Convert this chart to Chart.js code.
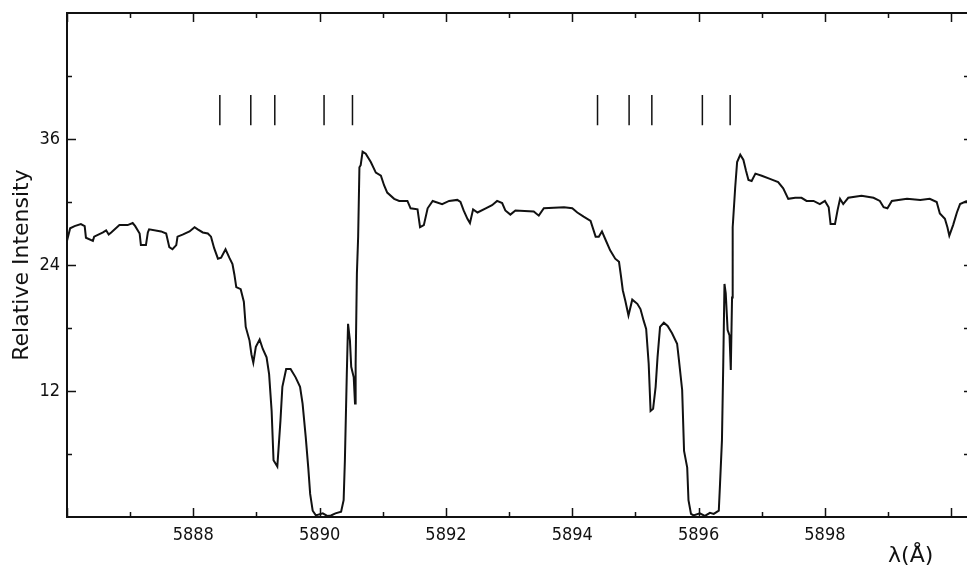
<!DOCTYPE html>
<html>
<head>
<meta charset="utf-8">
<title>Relative Intensity vs wavelength</title>
<script src="https://cdn.jsdelivr.net/npm/chart.js@4/dist/chart.umd.min.js"></script>
<style>
  html, body { margin: 0; padding: 0; background: #fff; }
  #chart { display: block; }
</style>
</head>
<body>
<canvas id="chart" width="967" height="567"></canvas>
<script>
// Spectrum (wavelength in Angstrom, relative intensity)
const wavelengths = [
  5886.00, 5886.05, 5886.12, 5886.22, 5886.28, 5886.30, 5886.41, 5886.43, 5886.57, 5886.62,
  5886.66, 5886.70, 5886.83, 5886.96, 5887.04, 5887.08, 5887.15, 5887.17, 5887.25, 5887.28,
  5887.30, 5887.49, 5887.57, 5887.62, 5887.67, 5887.73, 5887.75, 5887.83, 5887.94, 5888.02,
  5888.07, 5888.15, 5888.23, 5888.28, 5888.33, 5888.39, 5888.44, 5888.51, 5888.57, 5888.62,
  5888.65, 5888.68, 5888.75, 5888.80, 5888.83, 5888.89, 5888.92, 5888.95, 5888.99, 5889.05,
  5889.10, 5889.16, 5889.20, 5889.24, 5889.27, 5889.33, 5889.38, 5889.41, 5889.47, 5889.54,
  5889.62, 5889.69, 5889.73, 5889.78, 5889.82, 5889.85, 5889.89, 5889.94, 5890.05, 5890.12,
  5890.18, 5890.25, 5890.34, 5890.38, 5890.40, 5890.43, 5890.45, 5890.48, 5890.50, 5890.54,
  5890.56, 5890.57, 5890.59, 5890.61, 5890.63, 5890.65, 5890.68, 5890.73, 5890.81, 5890.89,
  5890.97, 5891.02, 5891.07, 5891.18, 5891.26, 5891.39, 5891.44, 5891.55, 5891.59, 5891.65,
  5891.71, 5891.79, 5891.94, 5892.05, 5892.18, 5892.23, 5892.28, 5892.34, 5892.38, 5892.43,
  5892.50, 5892.63, 5892.73, 5892.81, 5892.89, 5892.94, 5893.02, 5893.10, 5893.39, 5893.47,
  5893.55, 5893.87, 5894.00, 5894.08, 5894.18, 5894.29, 5894.37, 5894.42, 5894.47, 5894.52,
  5894.60, 5894.68, 5894.74, 5894.77, 5894.80, 5894.84, 5894.89, 5894.95, 5895.03, 5895.08,
  5895.13, 5895.17, 5895.21, 5895.24, 5895.28, 5895.32, 5895.35, 5895.39, 5895.45, 5895.51,
  5895.58, 5895.66, 5895.69, 5895.74, 5895.77, 5895.82, 5895.84, 5895.88, 5895.92, 5896.02,
  5896.10, 5896.18, 5896.24, 5896.32, 5896.34, 5896.37, 5896.39, 5896.41, 5896.43, 5896.46,
  5896.49, 5896.51, 5896.53, 5896.54, 5896.58, 5896.61, 5896.66, 5896.71, 5896.75, 5896.79,
  5896.84, 5896.90, 5897.00, 5897.13, 5897.26, 5897.34, 5897.42, 5897.53, 5897.63, 5897.71,
  5897.82, 5897.92, 5898.00, 5898.06, 5898.09, 5898.16, 5898.20, 5898.24, 5898.29, 5898.37,
  5898.58, 5898.77, 5898.87, 5898.93, 5898.99, 5899.06, 5899.30, 5899.51, 5899.66, 5899.77,
  5899.82, 5899.90, 5899.94, 5899.97, 5900.03, 5900.09, 5900.14, 5900.25
];
const intensity = [
  26.3, 27.5, 27.7, 27.9, 27.7, 26.6, 26.3, 26.7, 27.1, 27.3,
  26.9, 27.1, 27.8, 27.8, 28.0, 27.7, 27.0, 25.9, 25.9, 27.1,
  27.4, 27.2, 27.0, 25.7, 25.5, 25.9, 26.7, 26.9, 27.2, 27.6,
  27.4, 27.1, 27.0, 26.7, 25.6, 24.6, 24.7, 25.5, 24.7, 24.1,
  23.1, 21.9, 21.7, 20.5, 18.1, 16.8, 15.5, 14.7, 16.2, 16.9,
  16.0, 15.2, 13.6, 10.1, 5.4, 4.8, 9.2, 12.4, 14.1, 14.1,
  13.3, 12.4, 10.8, 7.6, 4.7, 2.2, 0.6, 0.15, 0.35, 0.1,
  0.15, 0.35, 0.5, 1.6, 5.4, 13.6, 18.4, 16.8, 14.3, 13.3,
  10.8, 14.6, 23.2, 26.7, 33.3, 33.5, 34.8, 34.6, 33.8, 32.8,
  32.5, 31.6, 30.9, 30.3, 30.1, 30.1, 29.4, 29.3, 27.6, 27.8,
  29.4, 30.1, 29.8, 30.1, 30.2, 30.0, 29.2, 28.4, 28.0, 29.3,
  29.0, 29.4, 29.7, 30.1, 29.9, 29.2, 28.8, 29.2, 29.1, 28.7,
  29.4, 29.5, 29.4, 29.0, 28.6, 28.2, 26.7, 26.7, 27.2, 26.5,
  25.4, 24.6, 24.3, 23.0, 21.6, 20.6, 19.2, 20.7, 20.3, 19.8,
  18.7, 17.9, 14.6, 10.1, 10.3, 12.4, 15.2, 18.1, 18.5, 18.2,
  17.5, 16.5, 14.9, 12.1, 6.3, 4.7, 1.6, 0.3, 0.15, 0.35,
  0.1, 0.4, 0.3, 0.6, 3.2, 7.3, 14.3, 22.2, 21.3, 17.8,
  17.3, 14.0, 20.9, 27.6, 31.4, 33.8, 34.5, 34.0, 33.0, 32.1,
  32.0, 32.7, 32.5, 32.2, 31.9, 31.3, 30.3, 30.4, 30.4, 30.1,
  30.1, 29.8, 30.1, 29.5, 27.9, 27.9, 29.2, 30.3, 29.8, 30.4,
  30.6, 30.4, 30.1, 29.5, 29.4, 30.1, 30.3, 30.2, 30.3, 30.0,
  28.9, 28.4, 27.6, 26.8, 27.8, 29.0, 29.8, 30.1
];

// short vertical line markers above the spectrum
const markerWavelengths = [5888.42, 5888.91, 5889.29, 5890.07, 5890.52, 5894.40, 5894.90, 5895.26, 5896.06, 5896.50];
const markerRange = [37.3, 40.2];

// axes
const xRange = [5886, 5900.25];
const yRange = [0, 48];
const xTickLabels = [5888, 5890, 5892, 5894, 5896, 5898];
const yTickLabels = [12, 24, 36];

const INK = '#111';
const TICK_FONT = "'DejaVu Sans Condensed', 'Liberation Sans Narrow', sans-serif";

// marker segments joined in one dataset, broken by nulls
const markerPoints = [];
markerWavelengths.forEach(function(w) {
  markerPoints.push({ x: w, y: markerRange[0] });
  markerPoints.push({ x: w, y: markerRange[1] });
  markerPoints.push({ x: w, y: null });
});

// frame, inward ticks and the lambda label
const frameTicks = {
  id: 'frameTicks',
  afterDraw(chart) {
    const ctx = chart.ctx;
    const a = chart.chartArea;
    const xs = chart.scales.x;
    const ys = chart.scales.y;
    ctx.save();
    ctx.strokeStyle = INK;
    ctx.lineWidth = 2;
    ctx.beginPath();
    ctx.moveTo(a.left, a.top);
    ctx.lineTo(a.right, a.top);
    ctx.stroke();

    ctx.lineWidth = 1.5;
    for (let v = Math.ceil(xs.min); v <= xs.max; v++) {
      const px = Math.round(xs.getPixelForValue(v)) + 0.5;
      const len = v % 2 === 0 ? 9 : 5;
      ctx.beginPath();
      ctx.moveTo(px, a.bottom);
      ctx.lineTo(px, a.bottom - len);
      ctx.moveTo(px, a.top);
      ctx.lineTo(px, a.top + len);
      ctx.stroke();
    }
    for (let v = 6; v < ys.max; v += 6) {
      const py = Math.round(ys.getPixelForValue(v)) + 0.5;
      const len = v % 12 === 0 ? 9 : 5;
      ctx.beginPath();
      ctx.moveTo(a.left, py);
      ctx.lineTo(a.left + len, py);
      ctx.moveTo(a.right, py);
      ctx.lineTo(a.right - 3, py);
      ctx.stroke();
    }

    ctx.fillStyle = INK;
    ctx.font = "22px 'DejaVu Sans', sans-serif";
    ctx.textAlign = 'left';
    ctx.textBaseline = 'alphabetic';
    ctx.fillText('λ(Å)', xs.getPixelForValue(5899.0), 562);
    ctx.restore();
  }
};

const ctx = document.getElementById('chart').getContext('2d');
new Chart(ctx, {
  type: 'line',
  data: {
    datasets: [
      {
        label: 'Spectrum',
        data: wavelengths.map(function(w, i) { return { x: w, y: intensity[i] }; }),
        borderColor: INK,
        borderWidth: 2,
        pointRadius: 0,
        tension: 0,
        fill: false
      },
      {
        label: 'Markers',
        data: markerPoints,
        borderColor: INK,
        borderWidth: 1.5,
        pointRadius: 0,
        spanGaps: false,
        fill: false
      }
    ]
  },
  options: {
    responsive: false,
    animation: false,
    devicePixelRatio: 1,
    layout: { padding: { top: 13, right: 0, bottom: 0, left: 0 } },
    plugins: {
      legend: { display: false },
      tooltip: { enabled: false }
    },
    scales: {
      x: {
        type: 'linear',
        min: xRange[0],
        max: xRange[1],
        afterBuildTicks: function(scale) {
          scale.ticks = xTickLabels.map(function(v) { return { value: v }; });
        },
        afterFit: function(scale) {
          scale.height = 50;
          scale.paddingLeft = 0;
          scale.paddingRight = 0;
        },
        grid: { display: true, drawOnChartArea: false, drawTicks: false },
        border: { display: true, color: INK, width: 2 },
        ticks: {
          color: INK,
          padding: 8,
          maxRotation: 0,
          font: { family: TICK_FONT, size: 18 },
          callback: function(v) { return String(v); }
        }
      },
      y: {
        type: 'linear',
        min: yRange[0],
        max: yRange[1],
        afterBuildTicks: function(scale) {
          scale.ticks = yTickLabels.map(function(v) { return { value: v }; });
        },
        afterFit: function(scale) {
          scale.width = 67;
          scale.paddingTop = 0;
          scale.paddingBottom = 0;
        },
        grid: { display: true, drawOnChartArea: false, drawTicks: false },
        border: { display: true, color: INK, width: 2 },
        ticks: {
          color: INK,
          padding: 7,
          font: { family: TICK_FONT, size: 18 },
          callback: function(v) { return String(v); }
        },
        title: {
          display: true,
          text: 'Relative Intensity',
          color: INK,
          padding: { top: 9, bottom: 0 },
          font: { family: "'DejaVu Sans', sans-serif", size: 22 }
        }
      }
    }
  },
  plugins: [frameTicks]
});
</script>
</body>
</html>
